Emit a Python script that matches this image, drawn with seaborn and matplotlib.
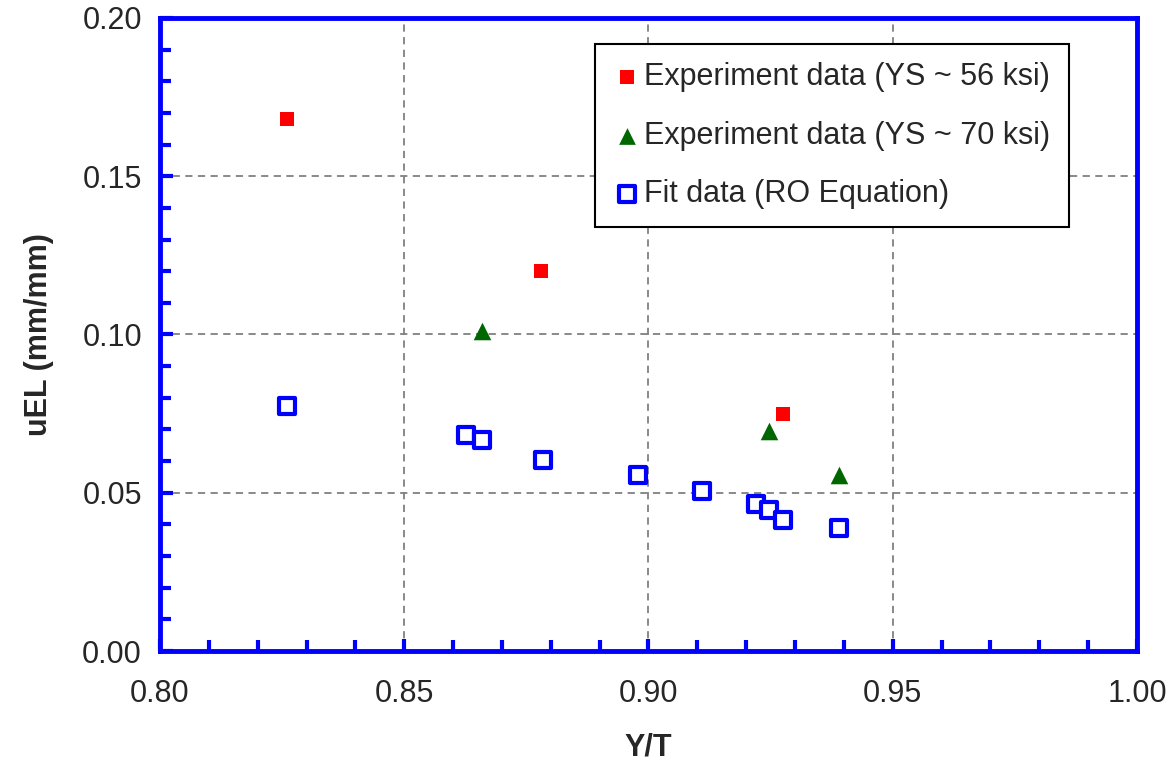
import matplotlib
matplotlib.use('Agg')
import matplotlib.pyplot as plt
import pandas as pd
import seaborn as sns
from matplotlib.ticker import MultipleLocator, FormatStrFormatter

# Data
exp56_yt = [0.826, 0.878, 0.9275]
exp56_uel = [0.168, 0.120, 0.075]
exp70_yt = [0.866, 0.9247, 0.939]
exp70_uel = [0.101, 0.0695, 0.0556]
fit_yt = [0.826, 0.8626, 0.866, 0.8784, 0.8978, 0.911, 0.922, 0.9247, 0.9275, 0.939]
fit_uel = [0.0774, 0.0682, 0.0667, 0.0603, 0.0556, 0.0506, 0.0463, 0.0447, 0.0414, 0.0389]

lab56 = 'Experiment data (YS ~ 56 ksi)'
lab70 = 'Experiment data (YS ~ 70 ksi)'
labfit = 'Fit data (RO Equation)'

sns.set_style('white')
plt.rcParams['font.family'] = ['Liberation Sans', 'DejaVu Sans']

fig = plt.figure(figsize=(11.73, 7.65), dpi=100)
ax = fig.add_axes([0.1364, 0.149, 0.9693 - 0.1364, 0.9765 - 0.149])

sns.scatterplot(x=exp56_yt, y=exp56_uel, ax=ax, marker='s', color='#ff0000',
                s=110, linewidth=0, label=lab56, zorder=3)
sns.scatterplot(x=exp70_yt, y=exp70_uel, ax=ax, marker='^', color='#006600',
                s=160, linewidth=0, label=lab70, zorder=3)
sns.scatterplot(x=fit_yt, y=fit_uel, ax=ax, marker='s', facecolor='white',
                edgecolor='#0000ff', s=140, linewidth=3, label=labfit, zorder=3)

ax.set_xlim(0.80, 1.00)
ax.set_ylim(0.0, 0.20)
ax.xaxis.set_major_locator(MultipleLocator(0.05))
ax.xaxis.set_minor_locator(MultipleLocator(0.01))
ax.yaxis.set_major_locator(MultipleLocator(0.05))
ax.yaxis.set_minor_locator(MultipleLocator(0.01))
ax.xaxis.set_major_formatter(FormatStrFormatter('%.2f'))
ax.yaxis.set_major_formatter(FormatStrFormatter('%.2f'))

ax.grid(True, which='major', color='#808080', linestyle=(0, (4, 3)), linewidth=1.3)
for sp in ax.spines.values():
    sp.set_color('#0000ff')
    sp.set_linewidth(3.5)
ax.tick_params(which='both', direction='in', color='#0000ff', width=3,
               labelsize=22, bottom=True, left=True, top=False, right=False)
ax.tick_params(axis='x', which='both', pad=20)
ax.tick_params(axis='y', which='both', pad=13)
ax.tick_params(which='major', length=9)
ax.tick_params(which='minor', length=8)

ax.set_xlabel('Y/T', fontsize=22, fontweight='bold', labelpad=17)
ax.set_ylabel('uEL (mm/mm)', fontsize=22, fontweight='bold', labelpad=20)

leg = ax.legend(loc='upper right', bbox_to_anchor=(0.930, 0.959), fontsize=22,
                frameon=True, fancybox=False, edgecolor='black',
                handletextpad=0.1, labelspacing=0.93, borderpad=0.6,
                borderaxespad=0, markerscale=0.95, handlelength=0.9)
leg.get_frame().set_linewidth(1.5)
leg.get_frame().set_alpha(1)

plt.savefig('out.png', dpi=100)
